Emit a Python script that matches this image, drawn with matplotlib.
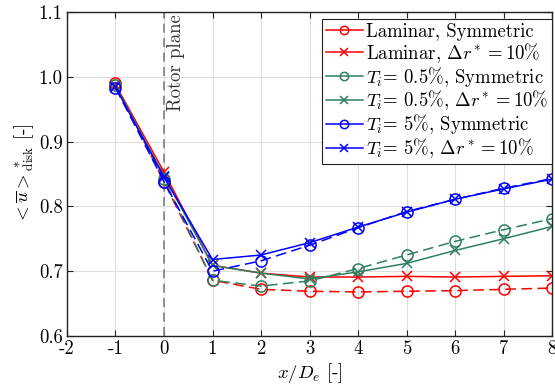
import numpy as np
import matplotlib
matplotlib.use("Agg")
import matplotlib.pyplot as plt
from matplotlib.lines import Line2D

plt.rcParams['font.family'] = 'serif'
plt.rcParams['font.serif'] = ['cmr10']
plt.rcParams['mathtext.fontset'] = 'cm'
plt.rcParams['axes.formatter.use_mathtext'] = True

x = [-1, 0, 1, 2, 3, 4, 5, 6, 7, 8]
lam_sym = [0.990, 0.838, 0.686, 0.672, 0.669, 0.668, 0.669, 0.670, 0.672, 0.674]
lam_asym = [0.988, 0.853, 0.709, 0.697, 0.691, 0.691, 0.692, 0.691, 0.692, 0.693]
ti05_sym = [0.987, 0.842, 0.686, 0.677, 0.685, 0.704, 0.725, 0.746, 0.764, 0.781]
ti05_asym = [0.986, 0.847, 0.709, 0.697, 0.688, 0.699, 0.712, 0.732, 0.750, 0.769]
ti5_sym = [0.983, 0.838, 0.700, 0.716, 0.740, 0.767, 0.792, 0.811, 0.828, 0.843]
ti5_asym = [0.984, 0.845, 0.718, 0.725, 0.744, 0.768, 0.791, 0.811, 0.827, 0.842]

labels = ['Laminar, Symmetric', r'Laminar, $\Delta r^* = 10\%$',
          r'$T_i$= 0.5%, Symmetric', r'$T_i$= 0.5%, $\Delta r^* = 10\%$',
          r'$T_i$= 5%, Symmetric', r'$T_i$= 5%, $\Delta r^* = 10\%$']

red = '#FF0000'
green = '#2E8060'
blue = '#0000FF'

fig = plt.figure(figsize=(5.55, 3.91), dpi=100)
ax = fig.add_axes([0.1207, 0.1407, 0.874, 0.8286])

ax.axvline(0, color='#888888', ls='--', lw=1.3, dashes=(5, 3), zorder=1)
ax.text(0.07, 1.096, 'Rotor plane', rotation=90, ha='left', va='top',
        fontsize=13.5, color='#333333')

series = [(lam_sym, 'o', red), (lam_asym, 'x', red),
          (ti05_sym, 'o', green), (ti05_asym, 'x', green),
          (ti5_sym, 'o', blue), (ti5_asym, 'x', blue)]
handles = []
for (ys, m, c), lab in zip(series, labels):
    if m == 'o':
        ax.plot(x, ys, ls='--', dashes=(7, 3.5), marker='o', color=c,
                lw=1.1, ms=8, mfc='none', mew=1.1)
    else:
        ax.plot(x, ys, ls='-', marker='x', color=c, lw=1.1, ms=7, mew=1.1)
    handles.append(Line2D([], [], ls='-', marker=m, color=c, lw=1.1,
                          ms=6 if m == 'o' else 5.5, mfc='none', mew=1.1, label=lab))

ax.set_xlim(-2, 8)
ax.set_ylim(0.6, 1.1)
ax.set_xticks(range(-2, 9))
ax.set_xticklabels([str(v) for v in range(-2, 9)])
yt = [0.6, 0.7, 0.8, 0.9, 1.0, 1.1]
ax.set_yticks(yt)
ax.set_yticklabels(['%.1f' % v for v in yt])
ax.tick_params(direction='in', top=True, right=True, labelsize=13.5, length=4,
               color='#222222', pad=3)
ax.grid(True, color='#dddddd', lw=0.8)
ax.set_axisbelow(True)
for s in ax.spines.values():
    s.set_linewidth(1.0)
    s.set_color('#222222')

ax.set_xlabel(r'$x/D_e$ [-]', fontsize=13.5, labelpad=2)
ax.set_ylabel(r'$<\overline{u}>^*_{\mathrm{disk}}$ [-]', fontsize=13.5, labelpad=2)

leg = ax.legend(handles=handles, loc='upper right', bbox_to_anchor=(1.0, 0.978),
                fontsize=13.5, frameon=True, fancybox=False,
                edgecolor='#222222', framealpha=1, handlelength=2.0,
                borderpad=0.2, labelspacing=0.0, handletextpad=0.15,
                borderaxespad=0.0)
leg.get_frame().set_linewidth(0.8)

fig.savefig('out.png', dpi=100)
